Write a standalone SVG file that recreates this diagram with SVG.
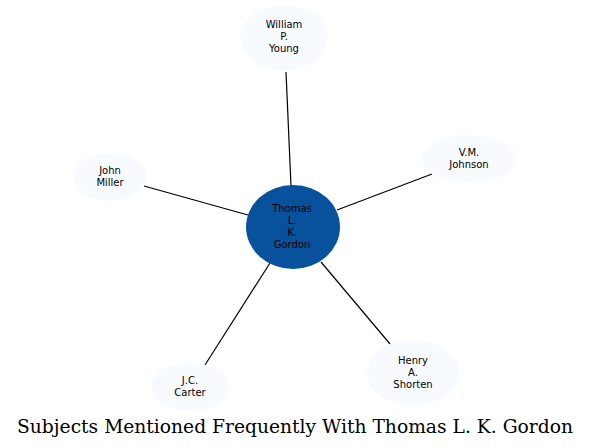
<svg xmlns="http://www.w3.org/2000/svg" width="591" height="448" viewBox="0 0 591 448">
<style>
.n{fill:#f7fbff;stroke:none}
.t{font-family:"DejaVu Sans",sans-serif;font-size:10px;fill:#000;text-anchor:middle}
.e{stroke:#000;stroke-width:1.2;fill:none}
</style>
<rect width="591" height="448" fill="#fff"/>
<g id="connectors">
<line class="e" x1="291" y1="186" x2="286" y2="72"/>
<line class="e" x1="248" y1="215" x2="144" y2="186"/>
<line class="e" x1="337" y1="210" x2="432" y2="174"/>
<line class="e" x1="270" y1="263" x2="205" y2="365"/>
<line class="e" x1="321" y1="262" x2="390" y2="344"/>
</g>
<g id="n_gordon"><ellipse cx="293" cy="227" rx="47" ry="42" fill="#08519c"/>
<text class="t" x="292" y="212">Thomas</text><text class="t" x="292" y="224">L.</text><text class="t" x="292" y="236">K.</text><text class="t" x="292" y="248">Gordon</text></g>
<g id="n_young"><ellipse class="n" cx="284" cy="38" rx="44" ry="33"/>
<text class="t" x="284" y="28">William</text><text class="t" x="284" y="40">P.</text><text class="t" x="284" y="52">Young</text></g>
<g id="n_miller"><ellipse class="n" cx="110" cy="177" rx="36" ry="24"/>
<text class="t" x="110" y="174">John</text><text class="t" x="110" y="186">Miller</text></g>
<g id="n_johnson"><ellipse class="n" cx="469" cy="159" rx="47" ry="24"/>
<text class="t" x="469" y="156">V.M.</text><text class="t" x="469" y="168">Johnson</text></g>
<g id="n_carter"><ellipse class="n" cx="190" cy="387" rx="39" ry="24"/>
<text class="t" x="190" y="384">J.C.</text><text class="t" x="190" y="396">Carter</text></g>
<g id="n_shorten"><ellipse class="n" cx="413" cy="373" rx="46" ry="33"/>
<text class="t" x="413" y="364">Henry</text><text class="t" x="413" y="376">A.</text><text class="t" x="413" y="388">Shorten</text></g>
<text x="295" y="433" font-family="'DejaVu Serif',serif" font-size="19" text-anchor="middle" textLength="556" lengthAdjust="spacingAndGlyphs" fill="#000">Subjects Mentioned Frequently With Thomas L. K. Gordon</text>
</svg>
